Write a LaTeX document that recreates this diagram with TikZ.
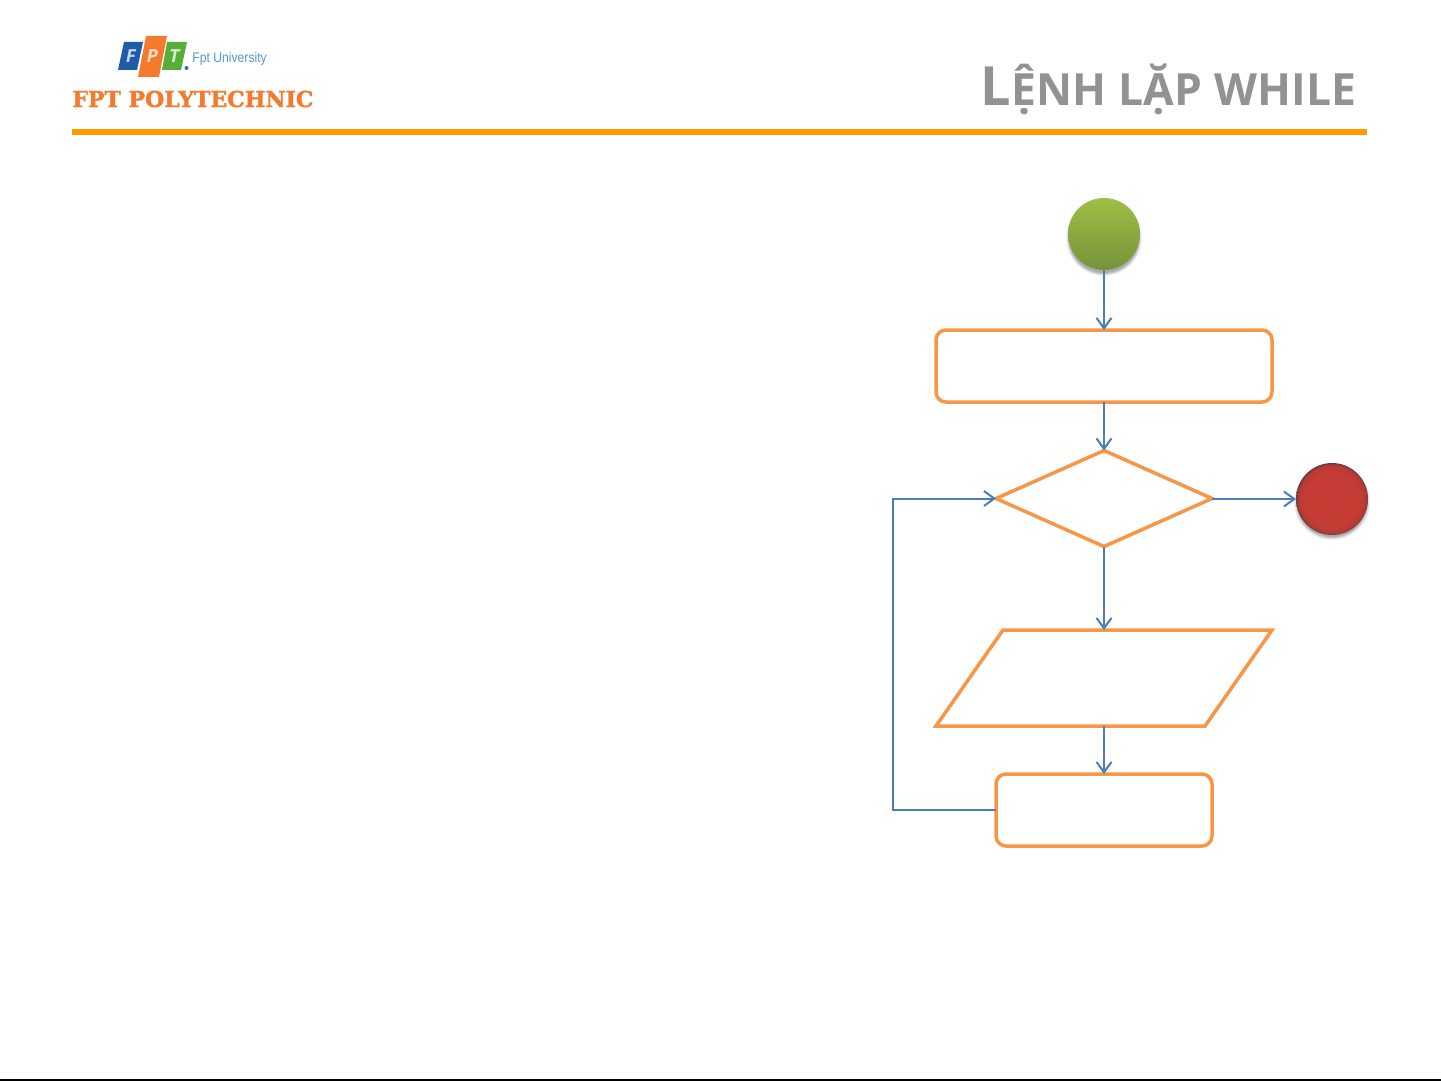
\documentclass[tikz,border=0pt]{standalone}
\usepackage{fontspec}
\setmainfont{Open Sans}
\newfontfamily\slabfont[BoldFeatures={FakeBold=1.6}]{DejaVu Serif}
\newfontfamily\unifont{Liberation Sans}
\usetikzlibrary{arrows.meta,shapes.geometric}
\definecolor{flowor}{HTML}{F79646}
\definecolor{flowbl}{HTML}{4A7EBB}
\definecolor{barline}{HTML}{FF9900}
\definecolor{polyor}{HTML}{F47A2E}
\definecolor{titlegray}{HTML}{929292}
\definecolor{gbot}{HTML}{76923C}
\definecolor{gtop}{HTML}{9DC043}
\definecolor{rin}{HTML}{CB3A36}
\definecolor{rmid}{HTML}{C33C34}
\definecolor{rout}{HTML}{6A3A3A}
\definecolor{logob}{HTML}{1F5CA8}
\definecolor{logog}{HTML}{58AE38}
\definecolor{logou}{HTML}{4F9AD0}
\pgfdeclareradialshading{redball}{\pgfpoint{0bp}{0bp}}{color(0bp)=(rin);color(20bp)=(rmid);color(23.5bp)=(rin!75!rout);color(25bp)=(rout);color(50bp)=(rout)}
\pgfdeclareverticalshading{greenballs}{100bp}{color(0bp)=(gbot);color(25bp)=(gbot);color(75bp)=(gtop);color(100bp)=(gtop)}
\tikzset{
  flowshape/.style={draw=flowor,line width=1.75pt,inner sep=0pt,outer sep=0pt},
  procbox/.style={flowshape,rectangle,rounded corners=5pt},
  flowlink/.style={draw=flowbl,line width=1pt,-{Straight Barb[length=5.2pt,width=7.5pt,line width=1pt]}},
  logoletter/.style={inner sep=0pt,xslant=0.2,font=\bfseries\fontsize{9}{9}\selectfont},
}
\begin{document}
\begin{tikzpicture}[x=0.5pt,y=-0.5pt]
\useasboundingbox (0,0) rectangle (1441,1081);
\fill[white] (0,0) rectangle (1441,1081);
% header
\fill[barline] (72,129) rectangle (1367,135);
\fill[black] (0,1079) rectangle (1441,1081);
% logo
\fill[logob] (124,42) -- (143,42) -- (137,70) -- (118,70) -- cycle;
\fill[polyor] (146,36) -- (167,36) -- (159,77) -- (138,77) -- cycle;
\fill[logog] (167,42) -- (187,42) -- (181,70) -- (162,70) -- cycle;
\node[logoletter,text=white!75!logob] (logoF) at (131,56) {F};
\node[logoletter,text=white!75!polyor] (logoP) at (152.5,56) {P};
\node[logoletter,text=white!75!logog] (logoT) at (174.5,56) {T};
\fill[logob!70!gray] (186.5,68) circle (2);
\node[anchor=west,inner sep=0pt,text=logou,xscale=0.87,font=\unifont\fontsize{7}{7}\selectfont] (logoU) at (192,58.5) {Fpt University};
\node[anchor=west,inner sep=0pt,text=polyor,font=\slabfont\bfseries\fontsize{11}{11}\selectfont] (poly) at (72,99) {FPT POLYTECHNIC};
% title
\node[anchor=base west,inner sep=0pt,text=titlegray,font=\bfseries] (title) at (980.5,105)
  {\fontsize{27}{27}\selectfont L\fontsize{22.2}{22.2}\selectfont ỆNH\hspace{6pt}LẶP\hspace{6.5pt}WHILE};
% shadows
\foreach \r/\o in {38/0.06,37/0.08,36/0.10,35/0.12}{
  \fill[black,opacity=\o] (1104,238) circle (\r);
  \fill[black,opacity=\o] (1332,502) circle (\r);
}
% nodes
\node[circle,minimum size=36pt,inner sep=0pt,outer sep=0pt,shading=greenballs] (start) at (1104,234) {};
\node[circle,minimum size=36pt,inner sep=0pt,outer sep=0pt,shading=redball] (stop) at (1332,499) {};
\node[procbox,minimum width=168pt,minimum height=36pt] (init) at (1104,366) {};
\node[flowshape,diamond,minimum width=108pt,minimum height=48pt] (cond) at (1104,498.5) {};
\node[rectangle,inner sep=0pt,outer sep=0pt,minimum width=168pt,minimum height=48pt] (body) at (1104,678) {};
\draw[flowor,line width=1.75pt,line join=miter] ([xshift=33.5pt]body.north west) -- (body.north east) -- ([xshift=-33.5pt]body.south east) -- (body.south west) -- cycle;
\node[procbox,minimum width=108pt,minimum height=36pt] (incr) at (1104,810) {};
\coordinate (backB) at (893,810);
\coordinate (backT) at (893,498.5);
\coordinate (exitA) at (1254,498.5);
\coordinate (exitB) at (1254,499);
% connectors
\draw[flowlink] (start.south) -- (init.north);
\draw[flowlink] (init.south) -- (cond.north);
\draw[flowlink] (cond.south) -- (body.north);
\draw[flowlink] (body.south) -- (incr.north);
\draw[flowlink] (incr.west) -- (backB) -- (backT) -- (cond.west);
\draw[flowlink] (cond.east) -- (exitA) -- (exitB) -- (stop.west);
\end{tikzpicture}
\end{document}
